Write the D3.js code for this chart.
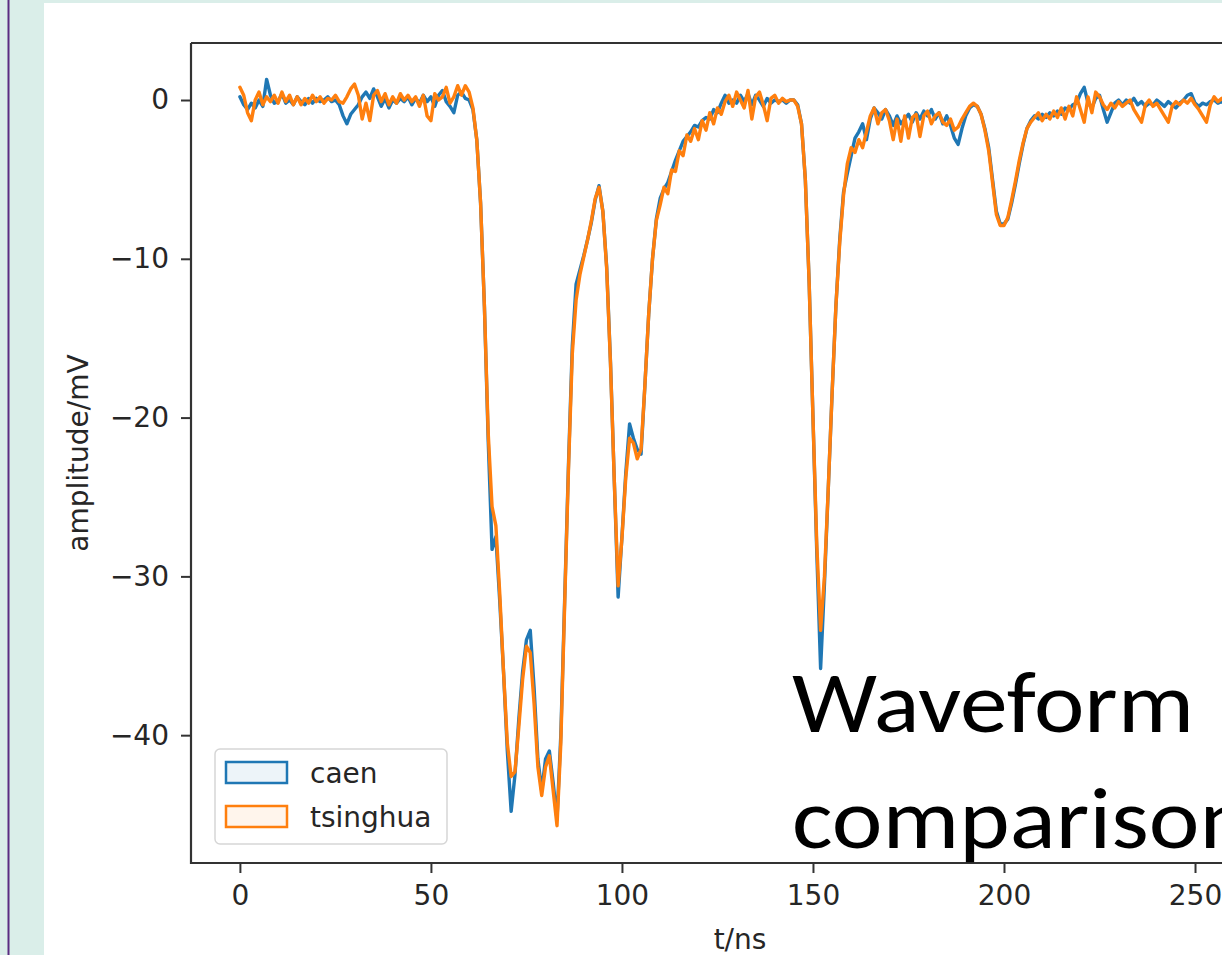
<!DOCTYPE html>
<html>
<head>
<meta charset="utf-8">
<script src="https://cdn.jsdelivr.net/npm/d3@7"></script>
<style>
  html, body { margin: 0; padding: 0; background: #daeee9; overflow: hidden; }
  svg { display: block; }
</style>
</head>
<body>
<script>
// ---- data (1 ns sampling) ----
const seriesNames = ["caen", "tsinghua"];
const seriesColors = ["#1f77b4", "#ff7f0e"];

const caen = [
  0.2,-0.3,-0.6,-0.2,-0.5,0.0,-0.4,1.3,0.3,-0.2,
  -0.1,0.4,-0.2,0.0,-0.3,0.2,-0.1,-0.3,0.1,-0.2,
  0.1,-0.1,0.0,0.2,-0.1,0.0,-0.3,-1.0,-1.5,-0.9,
  -0.6,-0.3,0.2,0.5,0.1,0.7,0.2,-0.4,0.1,-0.5,
  0.0,-0.2,0.1,-0.1,0.2,-0.3,0.1,-0.2,0.3,-0.1,
  0.2,-0.4,0.3,0.6,-0.1,-0.4,-0.8,0.3,0.5,0.1,
  0.0,-0.6,-2.5,-6.5,-13.0,-21.5,-28.3,-27.5,-31.5,-36.0,
  -41.0,-44.8,-42.5,-39.0,-36.0,-34.0,-33.4,-37.0,-41.5,-43.5,
  -41.5,-41.0,-43.0,-45.3,-40.0,-31.5,-23.0,-15.5,-11.6,-10.7,
  -9.8,-8.8,-7.7,-6.3,-5.4,-7.0,-10.5,-16.5,-24.0,-31.3,
  -27.5,-23.5,-20.4,-21.3,-22.0,-22.3,-18.0,-13.5,-10.0,-7.5,
  -6.2,-5.6,-5.2,-4.5,-3.8,-3.2,-2.6,-2.3,-2.0,-1.6,
  -1.7,-1.3,-1.1,-1.2,-0.6,-0.8,-0.2,0.3,-0.2,0.0,
  -0.2,0.3,-0.1,0.4,-0.3,0.3,0.0,-0.4,0.1,-0.2,
  0.0,-0.1,0.0,-0.2,0.0,0.0,-0.3,-1.5,-5.0,-11.5,
  -20.0,-28.5,-35.8,-30.5,-24.5,-18.5,-13.0,-8.8,-5.8,-4.6,
  -3.5,-2.4,-2.0,-1.5,-2.5,-1.2,-0.5,-0.8,-1.2,-0.6,
  -1.0,-1.6,-1.0,-1.5,-1.2,-0.9,-1.4,-0.8,-1.2,-0.7,
  -1.0,-0.6,-1.2,-0.8,-1.5,-1.0,-1.6,-2.4,-2.8,-1.8,
  -1.0,-0.5,-0.3,-0.4,-0.9,-1.8,-3.0,-5.0,-7.0,-7.8,
  -7.8,-7.5,-6.5,-5.3,-4.0,-2.8,-1.8,-1.3,-1.0,-1.2,
  -0.9,-1.1,-0.8,-1.0,-0.7,-0.9,-0.5,-0.6,-0.3,-0.2,
  0.4,0.8,-0.2,-0.5,0.1,0.3,-0.6,-1.4,-0.8,-0.2,
  0.0,-0.3,0.0,-0.2,0.1,-0.3,-0.1,-0.4,-0.2,-0.3,
  0.0,-0.2,-0.4,-0.1,-0.3,-0.5,-0.2,0.0,0.3,0.4,
  -0.2,-0.4,-0.2,-0.3,-0.1,0.0,-0.2,-0.1,-0.3
];

const tsinghua = [
  0.8,0.3,-0.8,-1.3,0.0,0.5,-0.3,0.2,-0.1,0.3,
  -0.2,0.5,-0.1,0.3,-0.3,0.2,-0.3,0.1,-0.2,0.3,
  -0.1,0.2,-0.2,0.1,0.0,0.3,-0.1,-0.2,0.2,0.7,
  1.0,0.3,-1.2,-0.2,-1.3,0.3,0.6,-0.1,0.4,-0.3,
  0.2,-0.2,0.4,0.0,0.3,-0.1,0.2,-0.4,0.3,-1.0,
  -1.3,0.4,0.0,0.2,0.8,-0.2,0.2,0.9,0.3,0.9,
  0.5,-0.5,-2.5,-6.5,-13.0,-21.0,-25.6,-26.8,-31.0,-36.0,
  -40.5,-42.6,-42.3,-39.5,-36.5,-34.4,-34.8,-38.0,-42.0,-43.8,
  -42.0,-41.3,-43.5,-45.7,-40.5,-31.8,-23.3,-16.0,-12.6,-11.0,
  -9.9,-8.8,-7.6,-6.2,-5.5,-7.0,-10.6,-16.6,-24.0,-30.6,
  -27.6,-23.8,-21.3,-21.6,-22.6,-22.0,-18.0,-13.5,-10.0,-7.6,
  -6.6,-5.5,-5.9,-4.4,-4.5,-3.2,-3.5,-2.2,-2.6,-1.8,
  -2.5,-1.3,-1.9,-0.8,-1.5,-0.5,-0.9,-0.1,0.3,-0.4,
  0.5,0.0,-0.5,0.6,-1.2,0.2,0.5,-0.3,-1.3,0.1,
  0.3,-0.2,0.1,-0.1,0.0,0.0,-0.4,-1.5,-5.0,-11.5,
  -20.0,-28.0,-33.4,-30.0,-24.5,-18.5,-13.0,-9.0,-6.0,-4.0,
  -3.0,-3.3,-2.5,-3.0,-2.0,-1.0,-0.5,-1.5,-0.8,-0.6,
  -1.3,-2.5,-1.2,-2.6,-1.0,-2.4,-1.1,-0.9,-2.3,-1.0,
  -0.7,-1.5,-1.0,-0.8,-1.4,-1.6,-1.2,-1.9,-1.7,-1.2,
  -0.8,-0.4,-0.2,-0.4,-0.9,-1.9,-3.2,-5.2,-7.2,-7.9,
  -7.9,-7.4,-6.3,-5.1,-3.8,-2.7,-1.8,-1.4,-1.1,-0.8,
  -1.3,-0.9,-1.2,-0.7,-1.1,-0.5,-1.2,-0.4,-1.0,0.2,
  -0.6,-1.4,0.2,-0.8,0.5,0.2,-0.3,-0.6,-0.2,-0.5,
  -0.1,-0.4,-0.2,0.0,-0.6,-1.0,-1.4,-0.3,0.0,-0.4,
  -0.2,-0.6,-1.0,-1.4,-0.4,-0.1,-0.3,0.0,-0.2,0.1,
  -0.3,-0.6,-1.0,-1.4,-0.3,0.2,-0.1,0.1,-0.2
];

const timeNs = d3.range(0, caen.length);           // sample times, 1 ns apart
const xTicks = [0, 50, 100, 150, 200, 250, 300];
const yTicks = [0, -10, -20, -30, -40];
const xLabel = "t/ns";
const yLabel = "amplitude/mV";
const titleLines = ["Waveform", "comparison"];

// ---- layout ----
const W = 1222, H = 955;
const ax = { left: 191, top: 43, right: 1289, bottom: 863 };

const svg = d3.select("body").append("svg").attr("width", W).attr("height", H);

// slide background
svg.append("rect").attr("x", 0).attr("y", 0).attr("width", W).attr("height", H).attr("fill", "#daeee9");
svg.append("line").attr("x1", 8.5).attr("x2", 8.5).attr("y1", 0).attr("y2", H)
  .attr("stroke", "#5a2d82").attr("stroke-width", 2);
svg.append("rect").attr("x", 44).attr("y", 3).attr("width", W - 44).attr("height", H - 3).attr("fill", "#ffffff");

const x = d3.scaleLinear().domain([-12.8, 274.6]).range([ax.left, ax.right]);
const y = d3.scaleLinear().domain([-48.05, 3.59]).range([ax.bottom, ax.top]);

svg.append("clipPath").attr("id", "plotclip").append("rect")
  .attr("x", ax.left).attr("y", ax.top).attr("width", ax.right - ax.left).attr("height", ax.bottom - ax.top);

const fmt = d => d < 0 ? "\u2212" + Math.abs(d) : String(d);
const tickFont = "'DejaVu Sans', sans-serif";

// axes
const gx = svg.append("g").attr("transform", `translate(0,${ax.bottom})`)
  .call(d3.axisBottom(x).tickValues(xTicks.filter(v => v >= x.domain()[0] && v <= x.domain()[1]))
    .tickSize(10).tickPadding(12).tickFormat(fmt));
const gy = svg.append("g").attr("transform", `translate(${ax.left},0)`)
  .call(d3.axisLeft(y).tickValues(yTicks).tickSize(10).tickPadding(12).tickFormat(fmt));
[gx, gy].forEach(g => {
  g.select(".domain").remove();
  g.selectAll(".tick line").attr("stroke", "#333").attr("stroke-width", 2);
  g.selectAll(".tick text").attr("fill", "#262626").style("font-family", tickFont).style("font-size", "28px");
});

// data lines
const line = d3.line().x((d, i) => x(timeNs[i])).y(d => y(d));
const plot = svg.append("g").attr("clip-path", "url(#plotclip)");
[caen, tsinghua].forEach((s, k) => {
  plot.append("path").datum(s).attr("d", line).attr("fill", "none")
    .attr("stroke", seriesColors[k]).attr("stroke-width", 3.4)
    .attr("stroke-linejoin", "round").attr("stroke-linecap", "round");
});

// spines
svg.append("path").attr("d", `M${ax.left},${ax.top}H${ax.right}M${ax.left},${ax.top}V${ax.bottom}H${ax.right}`)
  .attr("fill", "none").attr("stroke", "#333").attr("stroke-width", 2.2);

// axis labels
svg.append("text").attr("x", (ax.left + ax.right) / 2).attr("y", 949).attr("text-anchor", "middle")
  .style("font-family", tickFont).style("font-size", "28px").attr("fill", "#262626").text(xLabel);
svg.append("text").attr("transform", `translate(88,${(ax.top + ax.bottom) / 2}) rotate(-90)`)
  .attr("text-anchor", "middle").style("font-family", tickFont).style("font-size", "28px")
  .attr("fill", "#262626").text(yLabel);

// legend
const lg = svg.append("g");
lg.append("rect").attr("x", 215).attr("y", 749).attr("width", 232).attr("height", 95).attr("rx", 5)
  .attr("fill", "#ffffff").attr("fill-opacity", 0.8).attr("stroke", "#d6d6d6").attr("stroke-width", 1.5);
seriesNames.forEach((n, k) => {
  const yy = 762 + k * 44;
  lg.append("rect").attr("x", 226).attr("y", yy).attr("width", 61).attr("height", 21)
    .attr("fill", seriesColors[k]).attr("fill-opacity", 0.08)
    .attr("stroke", seriesColors[k]).attr("stroke-width", 2.5);
  lg.append("text").attr("x", 310).attr("y", yy + 21).style("font-family", tickFont)
    .style("font-size", "28px").attr("fill", "#262626").text(n);
});

// overlaid title
const tl = [{ t: titleLines[0], y: 732, len: 402 }, { t: titleLines[1], y: 848, len: 458 }];
tl.forEach(d => {
  svg.append("text").attr("x", 792).attr("y", d.y)
    .attr("textLength", d.len).attr("lengthAdjust", "spacingAndGlyphs")
    .style("font-family", "Carlito, Lato, 'Open Sans', sans-serif").style("font-size", "87px")
    .attr("fill", "#000").text(d.t);
});
</script>
</body>
</html>
